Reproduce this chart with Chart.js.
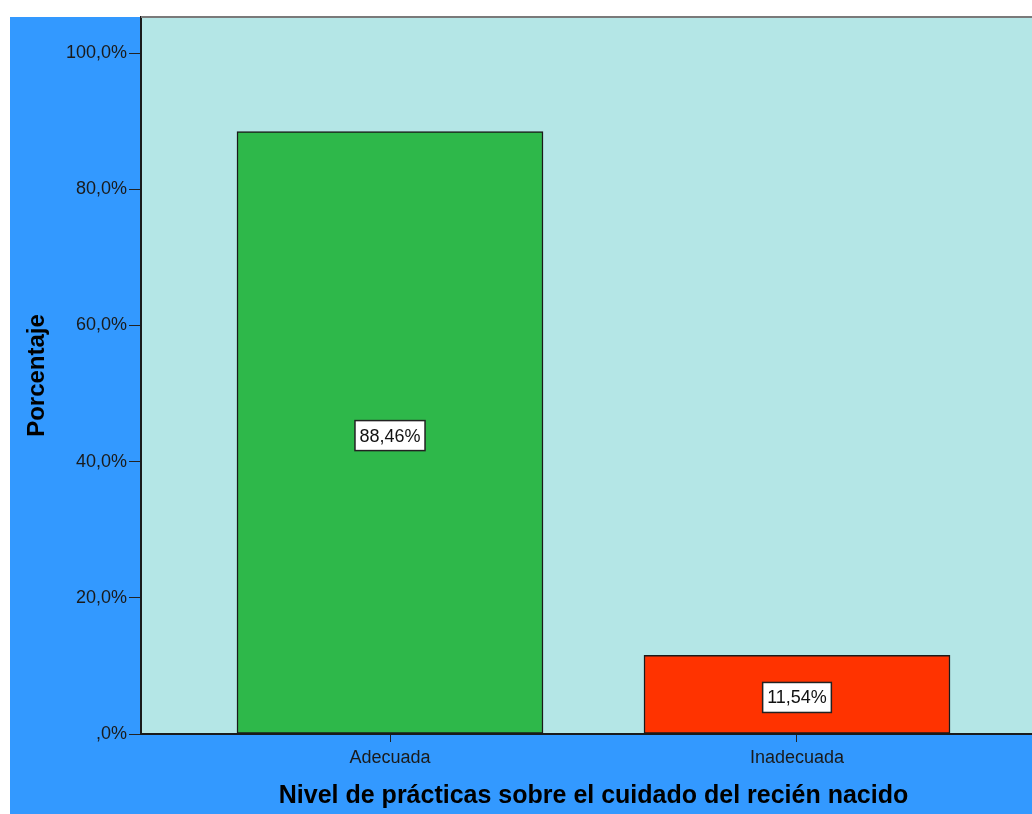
<!DOCTYPE html>
<html>
<head>
<meta charset="utf-8">
<script src="https://cdn.jsdelivr.net/npm/chart.js@4/dist/chart.umd.min.js"></script>
<style>
  html, body { margin: 0; padding: 0; background: #fff; overflow: hidden; }
  canvas { display: block; }
</style>
</head>
<body>
<canvas id="chart" width="1046" height="814"></canvas>
<script>
// categories and percentages
const categories = ["Adecuada", "Inadecuada"];
const percentages = [88.46, 11.54];
const barColors = ["#2eb84a", "#ff3300"];

// y axis ticks
const yTicks = [0, 20, 40, 60, 80, 100];
const yTickLabels = [",0%", "20,0%", "40,0%", "60,0%", "80,0%", "100,0%"];

const FONT = "'Liberation Sans', Arial, sans-serif";

function pct_label(v){
  return v.toFixed(2).replace(".", ",") + "%";
}

// backgrounds: white page, blue frame, pale cyan plot area
const backgrounds = {
  id: "backgrounds",
  beforeDraw(chart){
    const ctx = chart.ctx;
    const a = chart.chartArea;
    ctx.save();
    ctx.fillStyle = "#ffffff";
    ctx.fillRect(0, 0, chart.width, chart.height);
    ctx.fillStyle = "#3399ff";
    ctx.fillRect(10, 17, chart.width - 10, chart.height - 17);
    ctx.fillStyle = "#b4e6e6";
    ctx.fillRect(a.left, a.top, a.right - a.left, a.bottom - a.top);
    ctx.restore();
  },
  afterDraw(chart){
    const ctx = chart.ctx;
    const a = chart.chartArea;
    ctx.save();
    ctx.strokeStyle = "#7a7a7a";
    ctx.lineWidth = 2;
    ctx.beginPath();
    ctx.moveTo(a.left, a.top);
    ctx.lineTo(a.right, a.top);
    ctx.stroke();
    ctx.restore();
  }
};

// boxed value labels in the middle of each bar
const valueBoxes = {
  id: "valueBoxes",
  afterDatasetsDraw(chart){
    const ctx = chart.ctx;
    const meta = chart.getDatasetMeta(0);
    ctx.save();
    ctx.font = "18px " + FONT;
    ctx.textAlign = "center";
    ctx.textBaseline = "middle";
    meta.data.forEach((bar, i) => {
      const txt = pct_label(percentages[i]);
      const w = ctx.measureText(txt).width + 9;
      const h = 30;
      const cx = bar.x;
      const cy = (bar.y + bar.base) / 2 + 3;
      ctx.fillStyle = "#ffffff";
      ctx.fillRect(cx - w / 2, cy - h / 2, w, h);
      ctx.strokeStyle = "#222";
      ctx.lineWidth = 1.5;
      ctx.strokeRect(cx - w / 2, cy - h / 2, w, h);
      ctx.fillStyle = "#111";
      ctx.fillText(txt, cx, cy + 1);
    });
    ctx.restore();
  }
};

const data = {
  datasets: [{
    label: "Porcentaje",
    data: percentages.map((v, i) => ({ x: i, y: v })),
    backgroundColor: barColors,
    borderColor: "#1a1a1a",
    borderWidth: 1.5,
    borderSkipped: false,
    barThickness: 306
  }]
};

new Chart(document.getElementById("chart"), {
  type: "bar",
  data: data,
  plugins: [backgrounds, valueBoxes],
  options: {
    responsive: false,
    animation: false,
    layout: { padding: { left: 0, top: 17, right: 0, bottom: 0 } },
    plugins: {
      legend: { display: false },
      tooltip: { enabled: false }
    },
    scales: {
      x: {
        type: "linear",
        offset: false,
        min: -0.6118,
        max: 1.6118,
        afterFit: (scale) => { scale.height = 80; },
        afterBuildTicks: (scale) => { scale.ticks = categories.map((c, i) => ({ value: i })); },
        ticks: {
          callback: (v, i) => categories[i],
          color: "#1a1a1a",
          font: { family: FONT, size: 18 },
          padding: 5,
          maxRotation: 0
        },
        grid: {
          display: true,
          offset: false,
          drawOnChartArea: false,
          drawTicks: true,
          tickLength: 8,
          color: "#222",
          lineWidth: 1
        },
        border: { display: true, color: "#1a1a1a", width: 2 },
        title: {
          display: true,
          text: "Nivel de prácticas sobre el cuidado del recién nacido",
          color: "#000",
          font: { family: FONT, size: 25, weight: "bold" },
          padding: { top: 0, bottom: 3 }
        }
      },
      y: {
        min: 0,
        max: 105.3,
        afterFit: (scale) => { scale.width = 141; },
        afterBuildTicks: (scale) => { scale.ticks = yTicks.map(v => ({ value: v })); },
        ticks: {
          callback: (v, i) => yTickLabels[i],
          color: "#1a1a1a",
          font: { family: FONT, size: 18 },
          padding: 2
        },
        grid: {
          display: true,
          drawOnChartArea: false,
          drawTicks: true,
          tickLength: 12,
          color: "#222",
          lineWidth: 1
        },
        border: { display: true, color: "#1a1a1a", width: 2 },
        title: {
          display: true,
          text: "Porcentaje",
          color: "#000",
          font: { family: FONT, size: 24, weight: "bold" },
          padding: { top: 22.6, bottom: 0 }
        }
      }
    }
  }
});
</script>
</body>
</html>
